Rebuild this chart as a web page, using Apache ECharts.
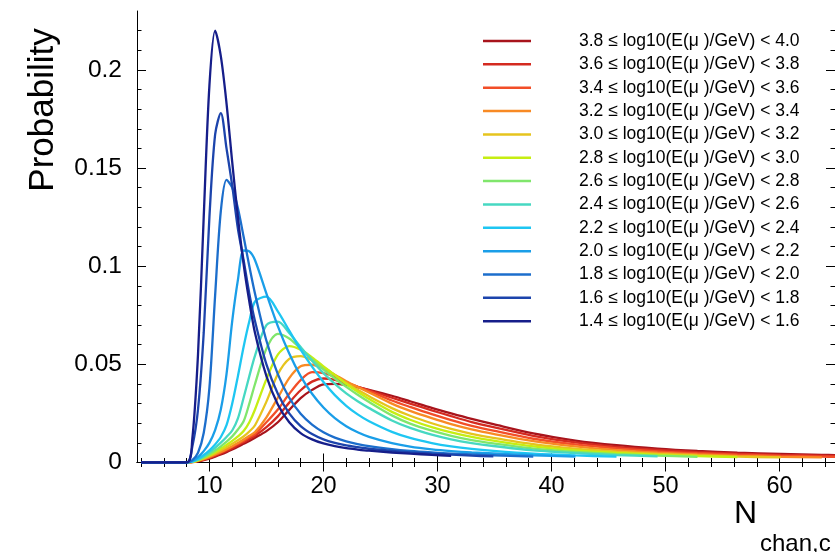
<!DOCTYPE html>
<html>
<head>
<meta charset="utf-8">
<script src="https://cdn.jsdelivr.net/npm/echarts@6/dist/echarts.min.js"></script>
<style>
  html, body { margin: 0; padding: 0; background: #fff; }
  #chart { width: 835px; height: 552px; }
</style>
</head>
<body>
<div id="chart"></div>
<script>
// Number of hit channels (x grid shared by all curves)
const nChan = [4, 8, 8.5, 9, 9.5, 10, 10.5, 11, 11.5, 12, 12.5, 13, 13.5, 14, 15, 16, 17, 18, 19, 20, 21, 22, 23, 24, 26, 27.6, 29.5, 31.2, 33, 34.9, 38.4, 42.1, 45.7, 49.3, 52.8, 56.3, 60.1, 63.7, 65];

// Energy bins, top legend row first
const energyBins = [
  '3.8 ≤ log10(E(μ )/GeV) < 4.0',
  '3.6 ≤ log10(E(μ )/GeV) < 3.8',
  '3.4 ≤ log10(E(μ )/GeV) < 3.6',
  '3.2 ≤ log10(E(μ )/GeV) < 3.4',
  '3.0 ≤ log10(E(μ )/GeV) < 3.2',
  '2.8 ≤ log10(E(μ )/GeV) < 3.0',
  '2.6 ≤ log10(E(μ )/GeV) < 2.8',
  '2.4 ≤ log10(E(μ )/GeV) < 2.6',
  '2.2 ≤ log10(E(μ )/GeV) < 2.4',
  '2.0 ≤ log10(E(μ )/GeV) < 2.2',
  '1.8 ≤ log10(E(μ )/GeV) < 2.0',
  '1.6 ≤ log10(E(μ )/GeV) < 1.8',
  '1.4 ≤ log10(E(μ )/GeV) < 1.6'
];

const binColors = ['#a8141c', '#d42a20', '#f24e28', '#f88a24', '#e6c41e', '#c6ee12', '#80e66c', '#46d8c2', '#1ec6f2', '#1a9ee8', '#1c6ecc', '#1c44ac', '#161e8a'];

// Probability per bin, on the nChan grid (null = curve ends)
const prob_38_40 = [0, 0, 0.0002, 0.0006, 0.0012, 0.0020, 0.0030, 0.0041, 0.0053, 0.0066, 0.0080, 0.0095, 0.0110, 0.0126, 0.0160, 0.0205, 0.0268, 0.0328, 0.0370, 0.0398, 0.0401, 0.0395, 0.0383, 0.0370, 0.0340, 0.0312, 0.0278, 0.0250, 0.0222, 0.0195, 0.0148, 0.0112, 0.0088, 0.0071, 0.0059, 0.0050, 0.0044, 0.0039, 0.0037];
const prob_36_38 = [0, 0, 0.0002, 0.0007, 0.0014, 0.0023, 0.0034, 0.0046, 0.0059, 0.0073, 0.0088, 0.0103, 0.0120, 0.0136, 0.0180, 0.0235, 0.0305, 0.0368, 0.0412, 0.0428, 0.0421, 0.0403, 0.0386, 0.0368, 0.0330, 0.0300, 0.0266, 0.0236, 0.0206, 0.0180, 0.0136, 0.0102, 0.0080, 0.0064, 0.0053, 0.0045, 0.0039, 0.0035, 0.0033];
const prob_34_36 = [0, 0, 0.0003, 0.0008, 0.0016, 0.0026, 0.0038, 0.0051, 0.0065, 0.0080, 0.0095, 0.0110, 0.0128, 0.0145, 0.0205, 0.0270, 0.0350, 0.0420, 0.0460, 0.0455, 0.0436, 0.0408, 0.0386, 0.0364, 0.0316, 0.0283, 0.0246, 0.0216, 0.0187, 0.0162, 0.0121, 0.0092, 0.0072, 0.0057, 0.0047, 0.0040, 0.0034, 0.0030, 0.0028];
const prob_32_34 = [0, 0, 0.0003, 0.0009, 0.0018, 0.0029, 0.0041, 0.0054, 0.0068, 0.0083, 0.0099, 0.0117, 0.0136, 0.0155, 0.0230, 0.0330, 0.0430, 0.0490, 0.0498, 0.0478, 0.0447, 0.0414, 0.0385, 0.0357, 0.0300, 0.0263, 0.0226, 0.0196, 0.0169, 0.0146, 0.0109, 0.0082, 0.0063, 0.0050, 0.0041, 0.0034, 0.0029, 0.0026, null];
const prob_30_32 = [0, 0, 0.0003, 0.0010, 0.0021, 0.0033, 0.0047, 0.0062, 0.0078, 0.0095, 0.0113, 0.0133, 0.0158, 0.0190, 0.0310, 0.0450, 0.0528, 0.0542, 0.0520, 0.0485, 0.0445, 0.0405, 0.0370, 0.0337, 0.0277, 0.0238, 0.0200, 0.0171, 0.0146, 0.0125, 0.0093, 0.0070, 0.0055, 0.0044, 0.0036, 0.0030, 0.0026, null, null];
const prob_28_30 = [0, 0, 0.0003, 0.0011, 0.0023, 0.0037, 0.0053, 0.0071, 0.0090, 0.0110, 0.0133, 0.0160, 0.0205, 0.0270, 0.0425, 0.0550, 0.0593, 0.0575, 0.0535, 0.0490, 0.0445, 0.0400, 0.0360, 0.0323, 0.0258, 0.0218, 0.0180, 0.0153, 0.0130, 0.0111, 0.0082, 0.0062, 0.0049, 0.0039, 0.0032, 0.0027, null, null, null];
const prob_26_28 = [0, 0, 0.0004, 0.0013, 0.0026, 0.0042, 0.0061, 0.0082, 0.0106, 0.0133, 0.0168, 0.0210, 0.0300, 0.0400, 0.0580, 0.0655, 0.0632, 0.0580, 0.0527, 0.0475, 0.0428, 0.0385, 0.0345, 0.0308, 0.0240, 0.0198, 0.0162, 0.0136, 0.0114, 0.0097, 0.0071, 0.0054, 0.0043, 0.0035, 0.0029, null, null, null, null];
const prob_24_26 = [0, 0, 0.0004, 0.0015, 0.0032, 0.0052, 0.0075, 0.0101, 0.0130, 0.0163, 0.0225, 0.0330, 0.0440, 0.0545, 0.0700, 0.0718, 0.0660, 0.0588, 0.0518, 0.0455, 0.0400, 0.0352, 0.0312, 0.0277, 0.0214, 0.0176, 0.0142, 0.0118, 0.0099, 0.0084, 0.0062, 0.0048, 0.0038, 0.0031, null, null, null, null, null];
const prob_22_24 = [0, 0, 0.0005, 0.0019, 0.0038, 0.0062, 0.0092, 0.0130, 0.0190, 0.0300, 0.0440, 0.0590, 0.0720, 0.0820, 0.0845, 0.0770, 0.0672, 0.0575, 0.0488, 0.0410, 0.0343, 0.0289, 0.0245, 0.0210, 0.0156, 0.0125, 0.0099, 0.0082, 0.0069, 0.0059, 0.0045, 0.0036, 0.0030, null, null, null, null, null, null];
const prob_20_22 = [0, 0, 0.0008, 0.0028, 0.0058, 0.0100, 0.0165, 0.0270, 0.0450, 0.0720, 0.0930, 0.1080, 0.1075, 0.1030, 0.0860, 0.0695, 0.0555, 0.0440, 0.0350, 0.0280, 0.0226, 0.0185, 0.0154, 0.0131, 0.0099, 0.0081, 0.0067, 0.0058, 0.0051, 0.0046, 0.0037, 0.0030, null, null, null, null, null, null, null];
const prob_18_20 = [0, 0, 0.0012, 0.0050, 0.0150, 0.0380, 0.0850, 0.1280, 0.1440, 0.1400, 0.1295, 0.1150, 0.1000, 0.0860, 0.0620, 0.0450, 0.0330, 0.0248, 0.0193, 0.0154, 0.0127, 0.0108, 0.0094, 0.0083, 0.0068, 0.0059, 0.0051, 0.0045, 0.0041, 0.0037, 0.0030, null, null, null, null, null, null, null, null];
const prob_16_18 = [0, 0, 0.0080, 0.0270, 0.0660, 0.1250, 0.1670, 0.1780, 0.1600, 0.1410, 0.1190, 0.1030, 0.0860, 0.0720, 0.0500, 0.0350, 0.0250, 0.0185, 0.0145, 0.0118, 0.0100, 0.0087, 0.0078, 0.0070, 0.0059, 0.0052, 0.0045, 0.0040, 0.0035, 0.0031, null, null, null, null, null, null, null, null, null];
const prob_14_16 = [0, 0, 0.0120, 0.0550, 0.1250, 0.1920, 0.2200, 0.2070, 0.1830, 0.1530, 0.1250, 0.1010, 0.0820, 0.0660, 0.0440, 0.0295, 0.0205, 0.0150, 0.0118, 0.0097, 0.0083, 0.0073, 0.0066, 0.0060, 0.0051, 0.0045, 0.0039, 0.0034, null, null, null, null, null, null, null, null, null, null, null];

const binValues = [prob_38_40, prob_36_38, prob_34_36, prob_32_34, prob_30_32, prob_28_30, prob_26_28, prob_24_26, prob_22_24, prob_20_22, prob_18_20, prob_16_18, prob_14_16];

// Axis ticks
const xMajorTicks = [10, 20, 30, 40, 50, 60];
const xMinorTicks = [4, 6, 8, 12, 14, 16, 18, 22, 24, 26, 28, 32, 34, 36, 38, 42, 44, 46, 48, 52, 54, 56, 58, 62, 64];
const yMajorTicks = [0, 0.05, 0.1, 0.15, 0.2];
const yMinorTicks = [0.01, 0.02, 0.03, 0.04, 0.06, 0.07, 0.08, 0.09, 0.11, 0.12, 0.13, 0.14, 0.16, 0.17, 0.18, 0.19, 0.21, 0.22];

const FONT = '"Liberation Sans", Arial, Helvetica, sans-serif';
const X_MIN = 3.65, X_MAX = 64.86;
const Y_MIN = 0, Y_MAX = 0.23;

const frameLine = { show: true, lineStyle: { color: '#000', width: 1 } };
const tickStyle = { color: '#000', width: 1 };

function xAxisDef(position, values, len, withLine, withLabels) {
  return {
    type: 'value', position: position, min: X_MIN, max: X_MAX,
    axisLine: withLine ? frameLine : { show: false },
    axisTick: { show: true, inside: true, length: len, customValues: values, lineStyle: tickStyle },
    axisLabel: withLabels
      ? { show: true, customValues: values, fontSize: 23.5, fontFamily: FONT, color: '#000', margin: 12 }
      : { show: false },
    splitLine: { show: false }
  };
}
function yAxisDef(position, values, len, withLine, withLabels) {
  return {
    type: 'value', position: position, min: Y_MIN, max: Y_MAX,
    axisLine: withLine ? frameLine : { show: false },
    axisTick: { show: true, inside: true, length: len, customValues: values, lineStyle: tickStyle },
    axisLabel: withLabels
      ? { show: true, customValues: values, fontSize: 24.5, fontFamily: FONT, color: '#000', margin: 15 }
      : { show: false },
    splitLine: { show: false }
  };
}

const series = energyBins.map(function (name, i) {
  return {
    name: name,
    type: 'line',
    xAxisIndex: 0,
    yAxisIndex: 0,
    data: nChan.map(function (n, k) { return [n, binValues[i][k]]; }),
    symbol: 'none',
    smooth: 0.3,
    connectNulls: false,
    color: binColors[i],
    lineStyle: { width: 2.3, color: binColors[i] },
    emphasis: { disabled: true },
    z: 2 + i
  };
});

const chart = echarts.init(document.getElementById('chart'), null, { renderer: 'canvas' });
chart.setOption({
  animation: false,
  backgroundColor: '#fff',
  grid: { left: 137, right: -1, top: 11, bottom: 89.5, containLabel: false },
  xAxis: [
    xAxisDef('bottom', xMajorTicks, 9, true, true),
    xAxisDef('bottom', xMinorTicks, 4.5, false, false),
    xAxisDef('top', xMajorTicks, 9, true, false),
    xAxisDef('top', xMinorTicks, 4.5, false, false)
  ],
  yAxis: [
    yAxisDef('left', yMajorTicks, 9, true, true),
    yAxisDef('left', yMinorTicks, 4.5, false, false),
    yAxisDef('right', yMajorTicks, 9, true, false),
    yAxisDef('right', yMinorTicks, 4.5, false, false)
  ],
  legend: {
    orient: 'vertical',
    left: 483,
    top: 32,
    padding: 0,
    icon: 'rect',
    itemWidth: 48,
    itemHeight: 2.5,
    itemGap: 5.35,
    selectedMode: false,
    data: energyBins,
    textStyle: { fontSize: 17.5, fontFamily: FONT, color: '#000', padding: [0, 0, 0, 43] }
  },
  graphic: [
    { type: 'text', x: 43, y: 110, rotation: Math.PI / 2,
      style: { text: 'Probability', fontSize: 35, fontFamily: FONT, fill: '#000', align: 'center', verticalAlign: 'middle' } },
    { type: 'text', x: 734, y: 514, style: { text: 'N', fontSize: 32, fontFamily: FONT, fill: '#000', align: 'left', verticalAlign: 'middle' } },
    { type: 'text', x: 760, y: 544, style: { text: 'chan,c', fontSize: 24, fontFamily: FONT, fill: '#000', align: 'left', verticalAlign: 'middle' } }
  ],
  series: series
});
</script>
</body>
</html>
